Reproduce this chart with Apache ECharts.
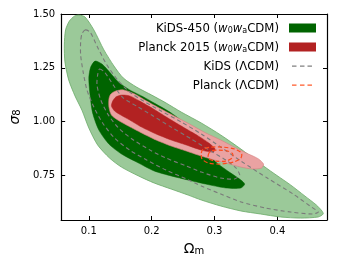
<!DOCTYPE html>
<html>
<head>
<meta charset="utf-8">
<title>KiDS-450 w0wa contours</title>
<script src="https://cdn.jsdelivr.net/npm/echarts@6.0.0/dist/echarts.min.js"></script>
<style>
  * { margin: 0; padding: 0; }
  html, body { width: 100%; height: 100%; background: #fff; }
  #main { width: 337px; height: 267px; }
</style>
</head>
<body>
<div id="main"></div>
<script>
// contour outlines, as [Omega_m, sigma_8]
const kids2s = [[0.084,1.495],[0.094,1.486],[0.108,1.426],[0.124,1.333],[0.140,1.258],[0.155,1.202],[0.176,1.160],[0.200,1.123],[0.223,1.086],[0.247,1.044],[0.279,0.993],[0.310,0.937],[0.342,0.872],[0.365,0.821],[0.389,0.770],[0.421,0.705],[0.444,0.653],[0.462,0.612],[0.471,0.584],[0.473,0.570],
  [0.465,0.556],[0.437,0.551],[0.405,0.556],[0.373,0.570],[0.342,0.584],[0.310,0.607],[0.279,0.635],[0.258,0.658],[0.231,0.686],[0.204,0.714],[0.179,0.747],[0.152,0.788],[0.133,0.830],[0.114,0.891],[0.100,0.970],[0.089,1.053],[0.078,1.119],[0.068,1.193],[0.062,1.277],[0.061,1.356],[0.063,1.426],[0.069,1.467],[0.077,1.490]];
const kids1s = [[0.110,1.281],[0.121,1.267],[0.133,1.230],[0.147,1.184],[0.165,1.147],[0.184,1.119],[0.207,1.081],[0.231,1.040],[0.255,0.984],[0.279,0.891],[0.302,0.812],[0.326,0.760],[0.342,0.728],[0.348,0.709],
  [0.342,0.691],[0.318,0.691],[0.286,0.709],[0.258,0.728],[0.231,0.747],[0.204,0.770],[0.179,0.807],[0.152,0.849],[0.132,0.895],[0.116,0.960],[0.106,1.040],[0.102,1.123],[0.100,1.202],[0.103,1.253]];
const planck2s = [[0.132,1.105],[0.135,1.128],[0.143,1.142],[0.155,1.147],[0.173,1.128],[0.192,1.095],[0.215,1.058],[0.239,1.021],[0.263,0.984],[0.286,0.947],[0.310,0.914],[0.334,0.877],[0.354,0.849],[0.370,0.826],[0.378,0.802],
  [0.375,0.784],[0.361,0.779],[0.342,0.788],[0.318,0.807],[0.294,0.826],[0.274,0.844],[0.255,0.863],[0.231,0.886],[0.207,0.914],[0.184,0.947],[0.163,0.979],[0.146,1.007],[0.136,1.030],[0.132,1.067]];
const planck1s = [[0.138,1.095],[0.143,1.114],[0.152,1.123],[0.165,1.119],[0.181,1.095],[0.203,1.058],[0.226,1.016],[0.250,0.974],[0.274,0.933],[0.291,0.900],[0.301,0.872],
  [0.298,0.858],[0.279,0.867],[0.255,0.891],[0.231,0.914],[0.207,0.942],[0.184,0.974],[0.165,1.007],[0.151,1.030],[0.141,1.049],[0.136,1.072]];
const kidsL2s = [[0.094,1.426],[0.102,1.416],[0.113,1.351],[0.128,1.267],[0.146,1.193],[0.165,1.137],[0.187,1.095],[0.215,1.049],[0.247,0.998],[0.279,0.942],[0.310,0.881],[0.342,0.816],[0.384,0.737],[0.425,0.663],[0.452,0.607],[0.465,0.579],
  [0.456,0.570],[0.421,0.579],[0.381,0.598],[0.342,0.626],[0.310,0.663],[0.279,0.700],[0.255,0.733],[0.223,0.774],[0.192,0.821],[0.165,0.867],[0.141,0.923],[0.122,0.993],[0.108,1.067],[0.097,1.147],[0.091,1.230],[0.087,1.309],[0.087,1.370],[0.089,1.407]];
const kidsL1s = [[0.117,1.244],[0.125,1.230],[0.140,1.165],[0.155,1.109],[0.176,1.072],[0.200,1.030],[0.231,0.974],[0.263,0.919],[0.294,0.863],[0.318,0.821],[0.334,0.784],[0.340,0.751],
  [0.332,0.733],[0.310,0.737],[0.279,0.765],[0.255,0.793],[0.223,0.830],[0.200,0.863],[0.171,0.914],[0.149,0.965],[0.132,1.026],[0.119,1.100],[0.113,1.170],[0.114,1.216]];
const planckL2s = [[0.279,0.853],[0.282,0.872],[0.294,0.881],[0.313,0.881],[0.332,0.872],[0.343,0.853],[0.342,0.830],[0.331,0.812],[0.310,0.802],[0.290,0.807],[0.280,0.826]];
const planckL1s = [[0.290,0.844],[0.294,0.863],[0.307,0.867],[0.321,0.863],[0.329,0.849],[0.328,0.830],[0.318,0.816],[0.302,0.816],[0.291,0.826]];

const xTicks = [0.1, 0.2, 0.3, 0.4];
const yTicks = [0.75, 1.0, 1.25, 1.5];
const xRange = [0.056, 0.479];
const yRange = [0.542, 1.5];

const font = 'DejaVu Sans';
const legendText = {
  kids: '{t|KiDS-450 (}{i|w}{s|0}{i|w}{s|a}{t|CDM)}',
  planck: '{t|Planck 2015 (}{i|w}{s|0}{i|w}{s|a}{t|CDM)}',
  kidsL: '{t|KiDS (ΛCDM)}',
  planckL: '{t|Planck (ΛCDM)}'
};

const rectIcon = 'path://M0,0h0.01v0.01h-0.01z M5,0h27v9h-27z';
const dashIcon = 'path://M0,0h0.01v0.01h-0.01z M32,9h0.01v0.01h-0.01z M8,3.9h4.5v1.3h-4.5z M16,3.9h4.5v1.3h-4.5z M23.5,3.9h4.5v1.3h-4.5z';

function contour(name, pts, style) {
  const col = style.fill !== 'none' ? style.fill : style.stroke;
  return {
    type: 'custom',
    name: name,
    data: pts,
    encode: { x: 0, y: 1 },
    clip: true,
    silent: true,
    itemStyle: { color: col },
    renderItem: function (params, api) {
      if (params.dataIndex !== 0) return null;
      return {
        type: 'polygon',
        shape: { points: pts.map(p => api.coord(p)), smooth: 0.25 },
        style: style
      };
    }
  };
}

function axisBase(pos, range, ticks, showLabel, digits) {
  return {
    type: 'value',
    position: pos,
    min: range[0],
    max: range[1],
    splitLine: { show: false },
    axisLine: { show: true, onZero: false, lineStyle: { color: '#000', width: 1.2 } },
    axisTick: { show: true, inside: true, length: 4, customValues: ticks, lineStyle: { color: '#000', width: 1 } },
    axisLabel: {
      show: showLabel, customValues: ticks, color: '#000', fontFamily: font, fontSize: 10, margin: 6,
      formatter: v => v.toFixed(digits)
    }
  };
}

// sub tokens sit on the line bottom so they read as subscripts
const sub = (size) => ({ fontSize: size, fontFamily: font, verticalAlign: 'bottom', color: '#000' });

function legendItem(name, icon, color) {
  return {
    name: name, icon: icon,
    itemStyle: { color: color, borderColor: color, borderWidth: 0, opacity: 1 }
  };
}

const chart = echarts.init(document.getElementById('main'), null, { renderer: 'canvas' });

const xMain = axisBase('bottom', xRange, xTicks, true, 1);
xMain.name = '{a|Ω}{b|m}';
xMain.nameLocation = 'middle';
xMain.nameGap = 20;
xMain.nameTextStyle = { color: '#000', fontFamily: font, rich: { a: Object.assign(sub(14), { lineHeight: 16 }), b: Object.assign(sub(10), { lineHeight: 13 }) } };

const yMain = axisBase('left', yRange, yTicks, true, 2);
yMain.name = '{a|σ}{b|8}';
yMain.nameLocation = 'middle';
yMain.nameGap = 27;
yMain.nameTextStyle = { color: '#000', fontFamily: font, rich: { a: Object.assign(sub(14), { fontStyle: 'italic', lineHeight: 16 }), b: Object.assign(sub(10), { lineHeight: 13 }) } };

chart.setOption({
  animation: false,
  backgroundColor: '#fff',
  grid: { left: 59, right: 10, top: 14, bottom: 47 },
  xAxis: [xMain, axisBase('top', xRange, xTicks, false, 1)],
  yAxis: [yMain, axisBase('right', yRange, yTicks, false, 2)],
  legend: {
    orient: 'vertical',
    align: 'right',
    right: 16,
    top: 18,
    itemGap: 7,
    itemWidth: 32,
    itemHeight: 9,
    selectedMode: false,
    textStyle: {
      fontFamily: font, fontSize: 11.7, color: '#000',
      rich: {
        t: Object.assign(sub(11.7), { lineHeight: 14 }),
        i: Object.assign(sub(11.7), { fontStyle: 'italic', lineHeight: 14 }),
        s: Object.assign(sub(8), { lineHeight: 11 })
      }
    },
    formatter: name => legendText[name],
    data: [
      legendItem('kids', rectIcon, '#006400'),
      legendItem('planck', rectIcon, '#b22222'),
      legendItem('kidsL', dashIcon, '#808080'),
      legendItem('planckL', dashIcon, '#ff5a2a')
    ]
  },
  series: [
    contour('kids2', kids2s, { fill: 'rgb(155,201,153)', stroke: 'rgb(105,170,103)', lineWidth: 0.8 }),
    contour('kids', kids1s, { fill: '#006400', stroke: '#006400', lineWidth: 0.5 }),
    contour('planck2', planck2s, { fill: 'rgb(234,162,162)', stroke: 'rgb(214,125,125)', lineWidth: 0.6 }),
    contour('planck', planck1s, { fill: '#b22222', stroke: '#b22222', lineWidth: 0.5 }),
    contour('kidsL', kidsL2s, { fill: 'none', stroke: '#7a7a7a', lineWidth: 1.1, lineDash: [4, 3] }),
    contour('kidsL1', kidsL1s, { fill: 'none', stroke: '#7a7a7a', lineWidth: 1.1, lineDash: [4, 3] }),
    contour('planckL', planckL2s, { fill: 'none', stroke: '#ff4a1a', lineWidth: 1.2, lineDash: [4, 2.5] }),
    contour('planckL1', planckL1s, { fill: 'none', stroke: '#ff4a1a', lineWidth: 1.2, lineDash: [4, 2.5] })
  ]
});
</script>
</body>
</html>
